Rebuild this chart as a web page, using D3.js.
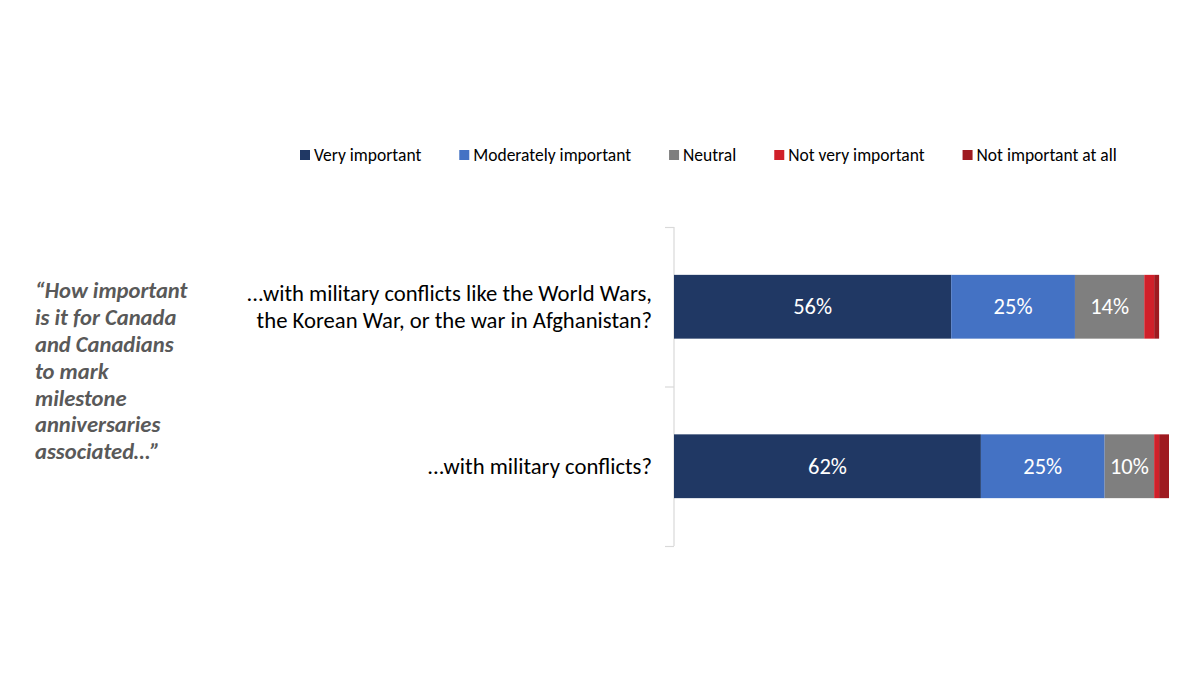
<!DOCTYPE html>
<html><head><meta charset="utf-8">
<script src="https://cdn.jsdelivr.net/npm/d3@7"></script>
<style>body{margin:0;background:#fff;} svg{display:block;}</style>
</head><body>
<svg id="c" width="1200" height="675"></svg>
<script>
const categories = [
  ["...with military conflicts like the World Wars,", "the Korean War, or the war in Afghanistan?"],
  ["...with military conflicts?"]
];
const seriesNames = ["Very important","Moderately important","Neutral","Not very important","Not important at all"];
const seriesColors = ["#203864","#4472c4","#7f7f7f","#d0202a","#9e1a20"];
const veryImportant = [56, 62];
const moderatelyImportant = [25, 25];
const neutral = [14, 10];
const notVeryImportant = [2, 1];
const notImportantAtAll = [1, 2];
const questionLines = ["\u201CHow important","is it for Canada","and Canadians","to mark","milestone","anniversaries","associated\u2026\u201D"];

const series = [veryImportant, moderatelyImportant, neutral, notVeryImportant, notImportantAtAll];
const svg = d3.select("#c");
const font = "Carlito, Calibri, Lato, 'Open Sans', sans-serif";

const x = d3.scaleLinear().domain([0,100]).range([674,1169]);
const y = d3.scaleBand().domain(d3.range(categories.length)).range([227,546]).paddingInner(0.6).paddingOuter(0.3);

// axis
const yAxis = d3.axisLeft(d3.scaleLinear().domain([0,2]).range([227,546])).tickValues([0,1,2]).tickSize(9).tickFormat("");
const ga = svg.append("g").attr("transform","translate(674,0)").call(yAxis);
ga.selectAll("path,line").attr("stroke","#d9d9d9").attr("stroke-width",1.2);
ga.select(".domain").attr("d","M0,227V546");

// bars
const stackData = categories.map((c,i)=>{
  let acc=0; return series.map((s,k)=>{const o={i,k,x0:acc,x1:acc+s[i],v:s[i]}; acc+=s[i]; return o;});
}).flat();
svg.append("g").selectAll("rect").data(stackData).join("rect")
  .attr("x",d=>x(d.x0)).attr("width",d=>x(d.x1)-x(d.x0))
  .attr("y",d=>y(d.i)).attr("height",y.bandwidth())
  .attr("fill",d=>seriesColors[d.k]);
svg.append("g").selectAll("text").data(stackData.filter(d=>d.v>=5)).join("text")
  .attr("x",d=>(x(d.x0)+x(d.x1))/2).attr("y",d=>y(d.i)+y.bandwidth()/2)
  .attr("dy","0.33em").attr("text-anchor","middle")
  .attr("fill","#fff").style("font-family",font).style("font-size","22.5px")
  .text(d=>d.v+"%");

// category labels
categories.forEach((lines,i)=>{
  const cy = y(i)+y.bandwidth()/2;
  const lh = 27;
  const t = svg.append("text").attr("text-anchor","end").attr("fill","#000")
    .style("font-family",font).style("font-size","22.7px");
  lines.forEach((l,j)=>{
    t.append("tspan").attr("x",652).attr("y",cy+(j-(lines.length-1)/2)*lh).attr("dy","0.33em").text(l);
  });
});

// question
const q = svg.append("text").attr("fill","#595959").style("font-family",font)
  .style("font-size","22.6px").style("font-weight","bold").style("font-style","italic");
questionLines.forEach((l,j)=>{
  q.append("tspan").attr("x",35).attr("y",291+j*26.8).attr("dy","0.33em").text(l);
});

// legend
const lg = svg.append("g").attr("transform","translate(300,155)");
let lx = 0;
seriesNames.forEach((n,k)=>{
  const g = lg.append("g").attr("transform",`translate(${lx},0)`);
  g.append("rect").attr("x",0).attr("y",-5).attr("width",10).attr("height",10).attr("fill",seriesColors[k]);
  const t = g.append("text").attr("x",14).attr("y",0).attr("dy","0.33em").attr("fill","#000")
    .style("font-family",font).style("font-size","17.5px").text(n);
  lx += 14 + t.node().getComputedTextLength() + 38;
});
</script>
</body></html>
